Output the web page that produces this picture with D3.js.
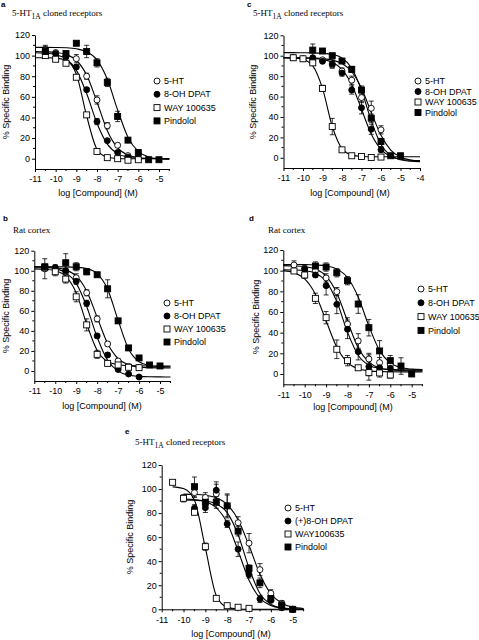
<!DOCTYPE html>
<html><head><meta charset="utf-8">
<script src="https://cdn.jsdelivr.net/npm/d3@7"></script>
<style>body{margin:0;background:#fff}svg{display:block}</style>
</head><body>
<script>
// ---------- labels / ticks ----------
const seriesNames  = ["5-HT", "8-OH DPAT", "WAY 100635", "Pindolol"];
const seriesNamesE = ["5-HT", "(+)8-OH DPAT", "WAY100635", "Pindolol"];
const yTicks  = [0, 20, 40, 60, 80, 100, 120];
const xTicks  = [-11, -10, -9, -8, -7, -6, -5];
const xTicksC = [-11, -10, -9, -8, -7, -6, -5, -4];
const xTitle = "log [Compound] (M)";
const yTitle = "% Specific Binding";

// ---------- fitted curve sample points ----------
const curveX   = [-11,-10.5,-10,-9.5,-9,-8.5,-8,-7.5,-7,-6.5,-6,-5.5,-5,-4.5];
const curveXC  = [-11,-10.5,-10,-9.5,-9,-8.5,-8,-7.5,-7,-6.5,-6,-5.5,-5,-4.5,-4];
const curveXE  = [-10,-9.5,-9,-8.5,-8,-7.5,-7,-6.5,-6,-5.5,-5,-4.5];
const curveXEW = [-10.5,-10,-9.5,-9,-8.5,-8,-7.5,-7,-6.5,-6,-5.5,-5,-4.5];

// panel a
const aC5 = [104,103.7,103.1,101.1,95.5,81.1,55.0,27.2,10.5,3.6,1.2,0.4,0.1,0];
const aC8 = [102.8,102.4,101,96.9,85.9,63.2,34.4,14.1,4.9,1.6,0.5,0.2,0,0];
const aCW = [98,97.9,97.6,95.4,82.1,41.4,9.2,1.4,0.2,0,0,0,0,0];
const aCP = [108,108,107.9,107.6,106.6,103.8,95.8,77.0,47.3,20.9,7.0,1.7,-0.1,-0.7];
const aX5 = [-10.5,-10,-9.5,-9,-8.5,-8,-7.5,-7,-6.5,-6];
const aY5 = [105,103,100,97,80,57,32,13,3,0];
const aE5 = [5,2,2,4,3,4,3,2,1,1];
const aX8 = [-10.5,-10,-9.5,-9,-8.5,-8,-7.5,-7,-6.5,-6];
const aY8 = [103,102,99,89,67,36,17.5,6,1.5,0];
const aE8 = [2,2,2,2,2,3,1,1,1,1];
const aXW = [-10.5,-10,-9.5,-9,-8.5,-8,-7.5,-7,-6.5,-6];
const aYW = [100,96.5,92.6,79,42.5,7,1,0,-1.5,-1];
const aEW = [2,2,2,2,2,1,1,1,1,1];
const aXP = [-10.5,-9.5,-9,-8.5,-8,-7.5,-7,-6.5,-6,-5.5,-5];
const aYP = [104,102,112,104,93,74,41,18,6,-1,-1];
const aEP = [5,2,2,6,4,4,5,2,2,1,1];

// panel b
const bC5 = [103.9,103.7,103,100.9,94.8,79.7,53.5,27.3,12.2,6.1,4,3.3,3.1,3];
const bC8 = [103.8,103.4,102.1,98.1,87.4,64.4,33.6,10.6,-0.1,-4.1,-5.4,-5.8,-5.9,-6];
const bCW = [101.9,101.5,100,94.6,77.9,46.8,20.5,9.4,6.2,5.3,5.1,5,5,5];
const bCP = [104,104,104,103.9,103.5,102.2,97.2,81.6,50.6,21.9,9.2,5.4,4.3,4.1];
const bX5 = [-10.5,-10,-9.5,-9,-8.5,-8,-7.5,-7,-6.5,-6];
const bY5 = [102,103,99,93,78,52,27,10,4.5,3.5];
const bE5 = [10,3,3,4,3,3,2,2,2,1];
const bX8 = [-10,-9.5,-9,-8.5,-8,-7.5,-7,-6.5,-6];
const bY8 = [103,100,89.5,67.5,35,16,1.5,-3,-6];
const bE8 = [2,2,3,3,2,2,1,1,1];
const bXW = [-10.5,-10,-9.5,-9,-8.5,-8,-7.5,-7,-6.5,-6];
const bYW = [103,99,91.7,74,46,16.6,7.6,6,3.7,3.3];
const bEW = [3,4,4,5,6,4,2,2,1,1];
const bXP = [-10.5,-9.5,-9,-8.5,-8,-7.5,-7,-6.5,-6,-5.5,-5];
const bYP = [104,108,104,99,96,82,50,23,13,6,5];
const bEP = [2,9,4,3,2,9,2,2,2,1,1];

// panel c
const cC5 = [98,98,97.9,97.7,97.2,95.8,92.3,84.3,68.1,44.5,22,7.6,0.7,-2.2,-3.3];
const cC8 = [98,97.9,97.8,97.4,96.4,93.7,86.7,71.5,47.5,23.4,8.3,1.3,-1.4,-2.4,-2.8];
const cCW = [98,97.7,96.3,90.1,68,30.9,8.9,2.7,1.3,1,1,1,1,1,1];
const cCP = [103,103,102.9,102.8,102.4,101.3,97.7,87.8,66.2,36.2,13.1,2.1,-2.0,-3.4,-3.8];
const cX5 = [-10.5,-10,-9.5,-9,-8.5,-8,-7.5,-7,-6.5,-6];
const cY5 = [98.4,97,96,96,91,85,76,59,48.5,27.4];
const cE5 = [2,2,2,2,3,3,4,5,7,4];
const cX8 = [-9.5,-9,-8.5,-8,-7.5,-7,-6.5,-6];
const cY8 = [98,94.5,92,83,66.4,49,28,8];
const cE8 = [2,2,4,3,4,6,5,3];
const cXW = [-10.5,-10,-9.5,-9,-8.5,-8,-7.5,-7,-6.5,-6];
const cYW = [98,97,93,68,30.6,7.8,2,1.3,0.3,0.7];
const cEW = [2,2,2,3,8,2,1,1,1,1];
const cXP = [-9.5,-9,-8.5,-8,-7.5,-7,-6.5,-6,-5.5,-5];
const cYP = [105.5,104.6,100,94.8,86.6,66.4,38.8,16,2,2];
const cEP = [6,2,2,2,3,4,4,3,1,1];

// panel d
const dC5 = [104.9,104.6,103.9,101.5,94.7,78.3,51.1,25.4,11.4,5.8,3.9,3.3,3.1,3.0];
const dC8 = [100.9,100.7,100,97.5,89.7,70.1,40.5,18.1,8.4,5.3,4.4,4.1,4,4];
const dCW = [100,98,92,77.2,51.5,25.8,11,5,3,2.3,2.1,2,2,2];
const dCP = [106,106,105.9,105.5,104.6,101.6,93.4,74.5,46.3,22.6,10.8,6.2,4.7,4.2];
const dX5 = [-10.5,-10,-9.5,-9,-8.5,-8,-7.5,-7,-6.5,-6];
const dY5 = [105.5,102,100,93,79.7,48.4,32,14.5,11,8.7];
const dE5 = [4,3,4,4,4,6,7,4,5,4];
const dX8 = [-10,-9.5,-9,-8.5,-8,-7.5,-7,-6.5,-6];
const dY8 = [101.6,95.8,85.5,67.4,43.2,21.6,7,6,5.5];
const dE8 = [2,2,9,9,9,8,13,5,3];
const dXW = [-10.5,-10,-9.5,-9,-8.5,-8,-7.5,-7,-6.5,-6];
const dYW = [99.7,95.8,73.2,54.5,23.9,12.9,6,1.3,1,-1];
const dEW = [2,3,5,6,9,5,2,3,4,3];
const dXP = [-9.5,-9,-8.5,-8,-7.5,-7,-6.5,-6,-5.5,-5];
const dYP = [104.5,103.5,98,90.3,67.7,44.8,22.3,12.9,7.7,0];
const dEP = [4,4,4,4,9,8,10,5,8,1];

// panel e
const eC5 = [95.8,95.5,94.8,92.7,87.1,74.5,53,29.2,12.9,5,1.8,0.7];
const eC8 = [91.7,91.2,89.5,84.5,71.8,48.7,24.1,9.3,3.2,1,0.3,0.1];
const eCW = [101.8,100.4,90.6,51,11.4,1.6,0.2,0,0,0,0,0,0];
const eCP = [91,90.7,90.1,87.7,80.4,62,34.3,13.2,4.2,1.2,0.35,0.1];
const eX5 = [-9.5,-9,-8.5,-8,-7.5,-7,-6.5,-6,-5.5,-5];
const eY5 = [97,93,96,86,72,55,33,13.3,5,0];
const eE5 = [4,4,8,9,5,8,5,3,2,1];
const eX8 = [-9.5,-9,-8.5,-8,-7.5,-7,-6.5,-6,-5.5,-5];
const eY8 = [84,84.5,99,71,50,29,8.6,7.5,4,0];
const eE8 = [3,4,7,3,6,3,3,2,2,1];
const eXW = [-10.5,-10,-9.5,-9,-8.5,-8,-7.5,-7];
const eYW = [105.6,92.3,80.7,52.1,9.1,3,1.7,0.8];
const eEW = [1,3,2,3,1,1,1,1];
const eXP = [-9.5,-9,-8.5,-8,-7.5,-7,-6.5,-6,-5.5,-5];
const eYP = [102,89,89,86,65,34,22,9,3,0];
const eEP = [8,3,5,10,4,3,4,3,4,1];

// ---------- build ----------
const markerTypes = [{shape:"circle",fill:false},{shape:"circle",fill:true},{shape:"square",fill:false},{shape:"square",fill:true}];
function mk(xs, ys, es){ return xs.map((x,i)=>({x:x, y:ys[i], e:es[i]})); }

const panels = [
 {letter:"a", title:"cloned", xd:[-11,-4.5], xr:[35,169.3], yd:[-10,120], yr:[169,35], xt:xTicks,
  curves:[[curveX,aC5],[curveX,aC8],[curveX,aCW],[curveX,aCP]],
  pts:[mk(aX5,aY5,aE5),mk(aX8,aY8,aE8),mk(aXW,aYW,aEW),mk(aXP,aYP,aEP)], names:seriesNames,
  leg:{x:157,y:81,dy:13.3}, lt:{x:1,y:7}, tt:{x:12,y:16}, yl:{x:6,y:102}, xl:{x:98,y:196}},
 {letter:"c", title:"cloned", xd:[-11,-4], xr:[283.5,420], yd:[-10,120], yr:[168,35.3], xt:xTicksC,
  curves:[[curveXC,cC5],[curveXC,cC8],[curveXC,cCW],[curveXC,cCP]],
  pts:[mk(cX5,cY5,cE5),mk(cX8,cY8,cE8),mk(cXW,cYW,cEW),mk(cXP,cYP,cEP)], names:seriesNames,
  leg:{x:418,y:81,dy:10.5}, lt:{x:247,y:7}, tt:{x:253,y:16}, yl:{x:253,y:102}, xl:{x:350,y:196}},
 {letter:"b", title:"Rat cortex", xd:[-11,-4.5], xr:[34.3,170.5], yd:[-10,120], yr:[381,250.7], xt:xTicks,
  curves:[[curveX,bC5],[curveX,bC8],[curveX,bCW],[curveX,bCP]],
  pts:[mk(bX5,bY5,bE5),mk(bX8,bY8,bE8),mk(bXW,bYW,bEW),mk(bXP,bYP,bEP)], names:seriesNames,
  leg:{x:167,y:303,dy:13}, lt:{x:3,y:221}, tt:{x:13,y:233}, yl:{x:6,y:316}, xl:{x:102,y:409}},
 {letter:"d", title:"Rat cortex", xd:[-11,-4.5], xr:[283.3,422.4], yd:[-10,120], yr:[384.3,250], xt:xTicks,
  curves:[[curveX,dC5],[curveX,dC8],[curveX,dCW],[curveX,dCP]],
  pts:[mk(dX5,dY5,dE5),mk(dX8,dY8,dE8),mk(dXW,dYW,dEW),mk(dXP,dYP,dEP)], names:seriesNames,
  leg:{x:421,y:289,dy:13.8}, lt:{x:249,y:221}, tt:{x:268,y:233}, yl:{x:256,y:317}, xl:{x:353,y:410}},
 {letter:"e", title:"cloned", xd:[-11,-4.5], xr:[161.7,303.6], yd:[0,120], yr:[609.3,465], xt:xTicks,
  curves:[[curveXE,eC5],[curveXE,eC8],[curveXEW,eCW],[curveXE,eCP]],
  pts:[mk(eX5,eY5,eE5),mk(eX8,eY8,eE8),mk(eXW,eYW,eEW),mk(eXP,eYP,eEP)], names:seriesNamesE,
  leg:{x:288,y:508,dy:13}, lt:{x:125,y:434}, tt:{x:135,y:445}, yl:{x:130,y:537}, xl:{x:231,y:637}}
];

const svg = d3.select("body").append("svg").attr("width",479).attr("height",640)
  .style("font-family","'Liberation Sans', Arial, sans-serif");

function marker(g, t, cx, cy){
  if (t.shape==="circle") {
    g.append("circle").attr("cx",cx).attr("cy",cy).attr("r",3)
      .attr("fill",t.fill?"#000":"#fff").attr("stroke","#000").attr("stroke-width",0.9);
  } else {
    g.append("rect").attr("x",cx-3).attr("y",cy-3).attr("width",6).attr("height",6)
      .attr("fill",t.fill?"#000":"#fff").attr("stroke","#000").attr("stroke-width",0.9);
  }
}

panels.forEach(p => {
  const g = svg.append("g");
  const x = d3.scaleLinear().domain(p.xd).range(p.xr);
  const y = d3.scaleLinear().domain(p.yd).range(p.yr);
  const baseY = y(p.yd[0]);

  // axes
  const ya = g.append("g").attr("transform",`translate(${p.xr[0]},0)`)
    .call(d3.axisLeft(y).tickValues(yTicks).tickSize(3).tickSizeOuter(0).tickPadding(2).tickFormat(d3.format("d")));
  const xa = g.append("g").attr("transform",`translate(0,${baseY})`)
    .call(d3.axisBottom(x).tickValues(p.xt).tickSize(3).tickSizeOuter(0).tickPadding(4).tickFormat(d=>d3.format("d")(d).replace("−","-")));
  [ya,xa].forEach(a=>{ a.attr("font-family","'Liberation Sans', Arial, sans-serif").attr("font-size",9);
    a.selectAll("path,line").attr("stroke","#000"); a.selectAll("text").attr("fill","#000"); });
  // minor ticks
  const yMinor = d3.range(p.yd[0], p.yd[1]+0.1, 10).filter(v => !yTicks.includes(v) && v>p.yd[0]);
  g.selectAll(null).data(yMinor).enter().append("line")
    .attr("x1",p.xr[0]-2).attr("x2",p.xr[0]).attr("y1",d=>y(d)).attr("y2",d=>y(d)).attr("stroke","#000");
  const xMinor = d3.range(p.xd[0]+0.5, p.xd[1]+0.01, 0.5).filter(v => !p.xt.includes(v));
  g.selectAll(null).data(xMinor).enter().append("line")
    .attr("x1",d=>x(d)).attr("x2",d=>x(d)).attr("y1",baseY).attr("y2",baseY+2).attr("stroke","#000");

  // curves
  const line = d3.line().x(d=>x(d[0])).y(d=>y(d[1])).curve(d3.curveMonotoneX);
  p.curves.forEach(([cx,cy]) => {
    g.append("path").attr("d", line(cx.map((v,i)=>[v,cy[i]])))
      .attr("fill","none").attr("stroke","#000").attr("stroke-width",1.1);
  });
  // error bars
  p.pts.forEach(s => s.forEach(d => {
    const X = x(d.x), y1 = y(d.y-d.e), y2 = y(d.y+d.e);
    g.append("line").attr("x1",X).attr("x2",X).attr("y1",y1).attr("y2",y2).attr("stroke","#000").attr("stroke-width",0.8);
    [y1,y2].forEach(yy => g.append("line").attr("x1",X-2.5).attr("x2",X+2.5).attr("y1",yy).attr("y2",yy).attr("stroke","#000").attr("stroke-width",0.8));
  }));
  // markers
  p.pts.forEach((s,k) => s.forEach(d => marker(g, markerTypes[k], x(d.x), y(d.y))));

  // legend
  p.names.forEach((n,k) => {
    const ly = p.leg.y + k*p.leg.dy;
    marker(g, markerTypes[k], p.leg.x, ly);
    g.append("text").attr("x",p.leg.x+7).attr("y",ly).attr("dy","0.35em")
      .attr("font-size",9).text(n);
  });

  // axis titles
  g.append("text").attr("x",p.xl.x).attr("y",p.xl.y).attr("text-anchor","middle").attr("font-size",9).text(xTitle);
  g.append("text").attr("transform",`translate(${p.yl.x},${p.yl.y}) rotate(-90)`).attr("text-anchor","middle")
    .attr("dy","0.35em").attr("font-size",9).text(yTitle);

  // panel letter
  g.append("text").attr("x",p.lt.x).attr("y",p.lt.y).attr("font-size",8).attr("font-weight","bold").text(p.letter);
  // panel title (serif)
  const t = g.append("text").attr("x",p.tt.x).attr("y",p.tt.y).attr("font-family","'Liberation Serif', 'Times New Roman', serif").attr("font-size",9);
  if (p.title==="cloned") {
    t.append("tspan").text("5-HT");
    t.append("tspan").attr("dy",2.5).attr("font-size",7.5).text("1A");
    t.append("tspan").attr("dy",-2.5).text(" cloned receptors");
  } else {
    t.text(p.title);
  }
});
</script>
</body></html>
